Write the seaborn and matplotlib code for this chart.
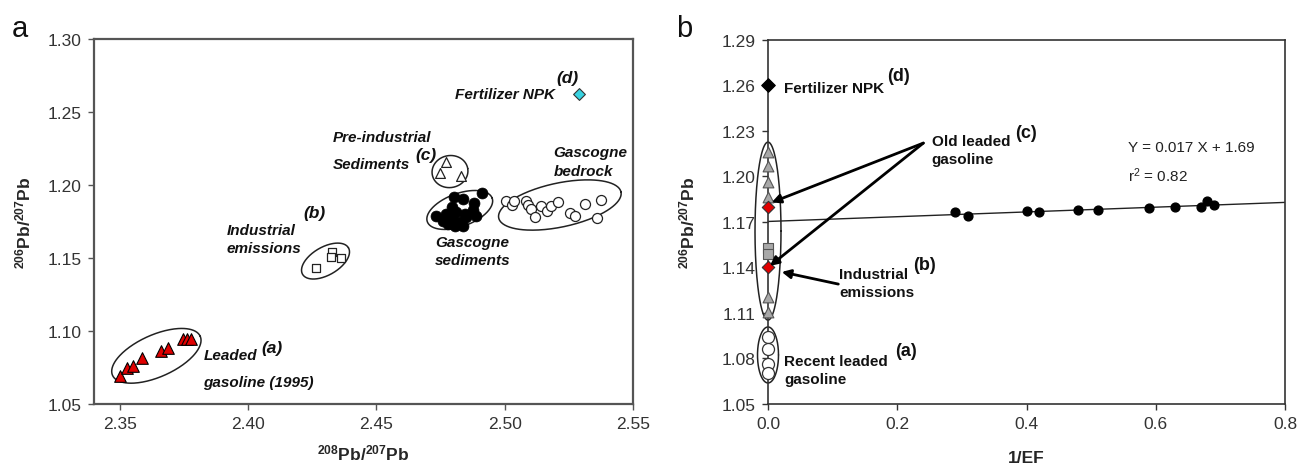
import numpy as np
import pandas as pd
import matplotlib
matplotlib.use("Agg")
import matplotlib.pyplot as plt
import seaborn as sns

# ---- panel a: 208Pb/207Pb (x) vs 206Pb/207Pb (y) ----
leaded_x = [2.3500, 2.3528, 2.3552, 2.3588, 2.3660, 2.3690, 2.3747, 2.3762, 2.3777]
leaded_y = [1.0694, 1.0744, 1.0758, 1.0815, 1.0861, 1.0885, 1.0945, 1.0945, 1.0945]
industrial_x = [2.4264, 2.4329, 2.4322, 2.4364]
industrial_y = [1.1429, 1.1543, 1.1505, 1.1498]
preind_x = [2.4770, 2.4747, 2.4828]
preind_y = [1.2155, 1.2082, 1.2064]
sed_x = [2.4912, 2.4802, 2.4838, 2.4880, 2.4793, 2.4877, 2.4734, 2.4773, 2.4809,
         2.4845, 2.4760, 2.4793, 2.4825, 2.4851, 2.4805, 2.4779, 2.4838, 2.4890]
sed_y = [1.1943, 1.1916, 1.1904, 1.1875, 1.1847, 1.1829, 1.1790, 1.1801, 1.1813,
         1.1801, 1.1755, 1.1767, 1.1749, 1.1779, 1.1721, 1.1733, 1.1721, 1.1790]
bedrock_x = [2.5004, 2.5030, 2.5035, 2.5085, 2.5091, 2.5104, 2.5117, 2.5143,
             2.5163, 2.5182, 2.5208, 2.5254, 2.5273, 2.5312, 2.5358, 2.5377]
bedrock_y = [1.1892, 1.1863, 1.1892, 1.1892, 1.1863, 1.1835, 1.1779, 1.1854,
             1.1824, 1.1854, 1.1881, 1.1808, 1.1790, 1.1870, 1.1774, 1.1899]
npk_x = [2.529]
npk_y = [1.262]

# ---- panel b: 1/EF (x) vs 206Pb/207Pb (y) ----
ef_x = [0.29, 0.31, 0.40, 0.42, 0.48, 0.51, 0.59, 0.63, 0.67, 0.68, 0.69]
ef_y = [1.1762, 1.1740, 1.1769, 1.1766, 1.1779, 1.1777, 1.1788, 1.1797, 1.1795, 1.1837, 1.1808]
gray_tri_y = [1.2162, 1.2065, 1.1964, 1.1861, 1.1202, 1.1107]
gray_sq_y = [1.1531, 1.1487]
red_dia_y = [1.180, 1.140]
recent_y = [1.0944, 1.0865, 1.0762, 1.0703]
npk_b_y = [1.26]

W, H = 1298, 464

sns.set_theme(style="ticks")
plt.rcParams['font.family'] = ['Liberation Sans', 'DejaVu Sans']
plt.rcParams['mathtext.fontset'] = 'custom'
plt.rcParams['mathtext.rm'] = 'Liberation Sans'
plt.rcParams['mathtext.bf'] = 'Liberation Sans:bold'
plt.rcParams['mathtext.it'] = 'Liberation Sans:italic'

fig = plt.figure(figsize=(W / 100, H / 100), dpi=100)
ax_a = fig.add_axes([94 / W, 59 / H, (633 - 94) / W, 365 / H])
ax_b = fig.add_axes([768 / W, 59 / H, (1285 - 768) / W, 364.3 / H])


def draw_ellipse(ax, cx, cy, w, h, angle, **kw):
    # w, h in screen pixels so the outline looks like a real ellipse
    x0, x1 = ax.get_xlim()
    y0, y1 = ax.get_ylim()
    sx = ax.bbox.width / (x1 - x0)
    sy = ax.bbox.height / (y1 - y0)
    t = np.linspace(0, 2 * np.pi, 240)
    a = np.deg2rad(angle)
    dx = w / 2 * np.cos(t) * np.cos(a) - h / 2 * np.sin(t) * np.sin(a)
    dy = w / 2 * np.cos(t) * np.sin(a) + h / 2 * np.sin(t) * np.cos(a)
    ax.plot(cx + dx / sx, cy + dy / sy, color='#222222', lw=1.1, clip_on=False, zorder=2, **kw)


# ==========================================
# Panel a
# ==========================================
ax = ax_a
ax.set_xlim(2.34, 2.55)
ax.set_ylim(1.05, 1.30)
ax.set_xticks([2.35, 2.40, 2.45, 2.50, 2.55])
ax.set_yticks([1.05, 1.10, 1.15, 1.20, 1.25, 1.30])
ax.xaxis.set_major_formatter(matplotlib.ticker.FormatStrFormatter('%.2f'))
ax.yaxis.set_major_formatter(matplotlib.ticker.FormatStrFormatter('%.2f'))

edge = '#222222'
sns.scatterplot(x=leaded_x, y=leaded_y, marker='^', s=70, color='#e00000',
                edgecolor='black', linewidth=0.8, ax=ax, zorder=3)
sns.scatterplot(x=industrial_x, y=industrial_y, marker='s', s=40, color='white',
                edgecolor=edge, linewidth=0.9, ax=ax, zorder=3)
sns.scatterplot(x=preind_x, y=preind_y, marker='^', s=50, color='white',
                edgecolor=edge, linewidth=0.9, ax=ax, zorder=3)
sns.scatterplot(x=sed_x, y=sed_y, marker='o', s=62, color='black',
                edgecolor='black', linewidth=0.5, ax=ax, zorder=3)
sns.scatterplot(x=bedrock_x, y=bedrock_y, marker='o', s=52, color='white',
                edgecolor=edge, linewidth=0.9, ax=ax, zorder=3)
sns.scatterplot(x=npk_x, y=npk_y, marker='D', s=36, color='#38d2e0',
                edgecolor='#333333', linewidth=0.8, ax=ax, zorder=3)

draw_ellipse(ax, 2.3643, 1.0830, 96, 42, 24)
draw_ellipse(ax, 2.4302, 1.1479, 53, 28, 30)
draw_ellipse(ax, 2.4787, 1.2092, 36, 32, 10)
draw_ellipse(ax, 2.4825, 1.1829, 69, 33, 20)
draw_ellipse(ax, 2.5215, 1.1863, 125, 44, 12)

lab = dict(fontsize=11, fontweight='bold', fontstyle='italic', color='#111111', va='center')
tag = dict(fontsize=12.5, fontweight='bold', fontstyle='italic', color='#111111', va='center')
ax.text(2.5196, 1.2623, 'Fertilizer NPK', ha='right', **lab)
ax.text(2.5200, 1.2738, '(d)', ha='left', **tag)
ax.text(2.4332, 1.2327, 'Pre-industrial', ha='left', **lab)
ax.text(2.4332, 1.2144, 'Sediments', ha='left', **lab)
ax.text(2.4651, 1.2212, '(c)', ha='left', **tag)
ax.text(2.5190, 1.2224, 'Gascogne', ha='left', **lab)
ax.text(2.5190, 1.2098, 'bedrock', ha='left', **lab)
ax.text(2.3917, 1.1692, 'Industrial', ha='left', **lab)
ax.text(2.4214, 1.1815, '(b)', ha='left', **tag)
ax.text(2.3917, 1.1566, 'emissions', ha='left', **lab)
ax.text(2.4729, 1.1607, 'Gascogne', ha='left', **lab)
ax.text(2.4729, 1.1486, 'sediments', ha='left', **lab)
ax.text(2.3826, 1.0836, 'Leaded', ha='left', **lab)
ax.text(2.4053, 1.0884, '(a)', ha='left', **tag)
ax.text(2.3826, 1.0653, 'gasoline (1995)', ha='left', **lab)

ax.set_xlabel(r'$\mathbf{^{208}Pb/^{207}Pb}$', fontsize=12.5)
ax.set_ylabel(r'$\mathbf{^{206}Pb/^{207}Pb}$', fontsize=12.5)
ax.xaxis.set_label_coords(0.5, -0.105)
ax.yaxis.set_label_coords(-0.113, 0.5)
for sp in ax.spines.values():
    sp.set_visible(True)
    sp.set_color('#555555')
    sp.set_linewidth(1.6)
ax.tick_params(direction='out', length=4, width=1, colors='#555555',
               labelcolor='#333333', labelsize=12.5, pad=5)

# ==========================================
# Panel b
# ==========================================
ax = ax_b
ax.set_xlim(0, 0.8)
ax.set_ylim(1.05, 1.29)
ax.set_xticks([0.0, 0.2, 0.4, 0.6, 0.8])
ax.set_yticks([1.05, 1.08, 1.11, 1.14, 1.17, 1.20, 1.23, 1.26, 1.29])
ax.xaxis.set_major_formatter(matplotlib.ticker.FormatStrFormatter('%.1f'))
ax.yaxis.set_major_formatter(matplotlib.ticker.FormatStrFormatter('%.2f'))

sns.regplot(x=ef_x, y=ef_y, ci=None, truncate=False, ax=ax,
            scatter_kws=dict(s=40, color='black', alpha=1, zorder=3, clip_on=False),
            line_kws=dict(color='#222222', lw=1.0, zorder=2))

draw_ellipse(ax, 0.0, 1.1639, 26, 178, 0)
draw_ellipse(ax, 0.0, 1.0823, 21, 56, 0)

sns.scatterplot(x=[0.0] * len(gray_tri_y), y=gray_tri_y, marker='^', s=60, color='#a8a8a8',
                edgecolor='#555555', linewidth=0.8, ax=ax, zorder=3, clip_on=False)
sns.scatterplot(x=[0.0] * len(gray_sq_y), y=gray_sq_y, marker='s', s=50, color='#a8a8a8',
                edgecolor='#555555', linewidth=0.8, ax=ax, zorder=3, clip_on=False)
sns.scatterplot(x=[0.0] * len(red_dia_y), y=red_dia_y, marker='D', s=40, color='#e00000',
                edgecolor='#333333', linewidth=0.8, ax=ax, zorder=4, clip_on=False)
sns.scatterplot(x=[0.0] * len(recent_y), y=recent_y, marker='o', s=75, color='white',
                edgecolor='#333333', linewidth=0.9, ax=ax, zorder=3, clip_on=False)
sns.scatterplot(x=[0.0] * len(npk_b_y), y=npk_b_y, marker='D', s=48, color='black',
                edgecolor='black', linewidth=0.8, ax=ax, zorder=4, clip_on=False)

arrow = dict(arrowstyle='-|>', color='black', lw=2, mutation_scale=13, shrinkA=0, shrinkB=0)
ax.annotate('', xy=(0.0057, 1.1828), xytext=(0.2404, 1.2219), arrowprops=arrow, zorder=5)
ax.annotate('', xy=(0.0030, 1.1410), xytext=(0.2404, 1.2219), arrowprops=arrow, zorder=5)
ax.annotate('', xy=(0.0212, 1.1370), xytext=(0.1088, 1.1290), arrowprops=arrow, zorder=5)

lab_b = dict(fontsize=11, fontweight='bold', color='#111111', va='center', ha='left')
tag_b = dict(fontsize=13, fontweight='bold', color='#111111', va='center', ha='left')
ax.text(0.0248, 1.2582, 'Fertilizer NPK', **lab_b)
ax.text(0.1847, 1.2661, '(d)', **tag_b)
ax.text(0.2534, 1.2234, 'Old leaded', **lab_b)
ax.text(0.2534, 1.2113, 'gasoline', **lab_b)
ax.text(0.3824, 1.2289, '(c)', **tag_b)
ax.text(0.1104, 1.1355, 'Industrial', **lab_b)
ax.text(0.1104, 1.1238, 'emissions', **lab_b)
ax.text(0.2245, 1.1421, '(b)', **tag_b)
ax.text(0.0248, 1.0784, 'Recent leaded', **lab_b)
ax.text(0.0248, 1.0663, 'gasoline', **lab_b)
ax.text(0.1966, 1.0850, '(a)', **tag_b)
ax.text(0.5573, 1.2191, 'Y = 0.017 X + 1.69', fontsize=11, color='#222222', va='center', ha='left')
ax.text(0.5573, 1.2008, r'r$^2$ = 0.82', fontsize=11, color='#222222', va='center', ha='left')

ax.set_xlabel('1/EF', fontsize=12.5, fontweight='bold')
ax.set_ylabel(r'$\mathbf{^{206}Pb/^{207}Pb}$', fontsize=12.5)
ax.xaxis.set_label_coords(0.5, -0.125)
ax.yaxis.set_label_coords(-0.137, 0.5)
for sp in ax.spines.values():
    sp.set_visible(True)
    sp.set_color('#333333')
    sp.set_linewidth(1.2)
ax.tick_params(direction='out', length=4, width=1, colors='#333333',
               labelcolor='#333333', labelsize=12.5, pad=5)

fig.text(20 / W, 1 - 37 / H, 'a', fontsize=21, ha='center', va='baseline', color='#111111')
fig.text(684 / W, 1 - 37 / H, 'b', fontsize=21, ha='center', va='baseline', color='#111111')

fig.savefig('out.png', dpi=100)
